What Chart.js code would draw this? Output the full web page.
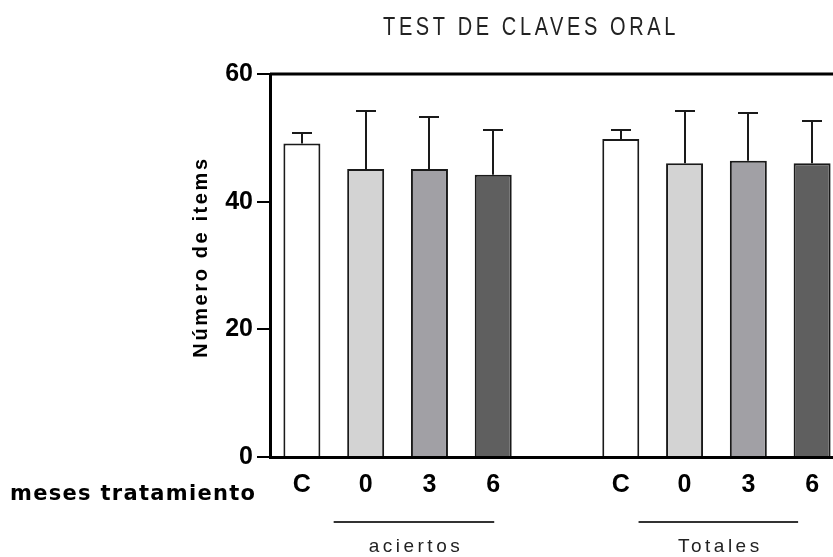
<!DOCTYPE html>
<html><head><meta charset="utf-8">
<script src="https://cdn.jsdelivr.net/npm/chart.js@4"></script>
<style>
html,body{margin:0;padding:0;background:#fff;overflow:hidden;width:833px;height:557px}
#wrap{position:absolute;left:0;top:0;width:850px;height:557px}
</style></head><body>
<div id="wrap"><canvas id="c" width="850" height="557"></canvas></div>
<script>
const categories = ['C','0','3','6','','C','0','3','6'];
const meanValues = [49.1,45.1,45.1,44.2,null,49.8,46.0,46.4,46.0];
const errorTops = [50.8,54.2,53.3,51.3,null,51.3,54.2,53.9,52.6];
const yTickValues = [0,20,40,60];
const groupNames = ['aciertos','Totales'];
const groupFirst = [1,6];
const groupLast = [3,8];
const chartTitle = 'TEST DE CLAVES ORAL';
const yTitle = 'Número de items';
const xRowLabel = 'meses tratamiento';
const barFill = ['#ffffff','#d3d3d3','#a1a0a5','#5f5f5f','#ffffff','#ffffff','#d3d3d3','#a1a0a5','#5f5f5f'];

const SANS = "'Liberation Sans',Arial,sans-serif";

const extras = {
  id:'extras',
  afterDatasetsDraw(chart){
    const ctx = chart.ctx, y = chart.scales.y, meta = chart.getDatasetMeta(0);
    ctx.save();
    ctx.strokeStyle = '#1a1a1a'; ctx.lineWidth = 2;
    meta.data.forEach((bar,i)=>{
      if (meanValues[i]==null) return;
      const x = Math.round(bar.x);
      const y0 = y.getPixelForValue(meanValues[i]);
      const y1 = Math.round(y.getPixelForValue(errorTops[i]));
      ctx.beginPath(); ctx.moveTo(x,y0); ctx.lineTo(x,y1); ctx.stroke();
      ctx.beginPath(); ctx.moveTo(x-10,y1); ctx.lineTo(x+10,y1); ctx.stroke();
    });
    const yt = y.getPixelForValue(60);
    ctx.strokeStyle = '#000'; ctx.lineWidth = 3;
    ctx.beginPath(); ctx.moveTo(chart.chartArea.left, yt); ctx.lineTo(chart.width, yt); ctx.stroke();
    ctx.restore();
  },
  afterDraw(chart){
    const ctx = chart.ctx, xs = chart.scales.x;
    ctx.save();
    // title (condensed look)
    ctx.save();
    ctx.fillStyle = '#222';
    ctx.font = "25px " + SANS;
    ctx.letterSpacing = '4.5px';
    ctx.textAlign = 'center'; ctx.textBaseline = 'middle';
    ctx.translate(531, 28); ctx.scale(0.8, 1);
    ctx.fillText(chartTitle, 0, 0);
    ctx.restore();
    // y title
    ctx.save();
    ctx.translate(201, 257); ctx.rotate(-Math.PI/2);
    ctx.font = "bold 20px " + SANS;
    ctx.letterSpacing = '2.6px';
    ctx.textAlign = 'center'; ctx.textBaseline = 'middle';
    ctx.fillStyle = '#000';
    ctx.fillText(yTitle, 0, 0);
    ctx.restore();
    // row label
    ctx.font = "bold 21px 'DejaVu Sans',Verdana,sans-serif";
    ctx.letterSpacing = '1.3px';
    ctx.textAlign = 'left'; ctx.textBaseline = 'middle'; ctx.fillStyle = '#000';
    ctx.fillText(xRowLabel, 10, 495);
    // group underlines & names
    ctx.strokeStyle = '#333'; ctx.lineWidth = 2;
    ctx.font = "19px " + SANS;
    ctx.letterSpacing = '3.5px';
    ctx.fillStyle = '#222'; ctx.textAlign = 'center';
    const offs = [[-32,1],[-46,-14]];
    groupNames.forEach((g,k)=>{
      const a = xs.getPixelForValue(groupFirst[k]) + offs[k][0];
      const b = xs.getPixelForValue(groupLast[k]) + offs[k][1];
      ctx.beginPath(); ctx.moveTo(a,522); ctx.lineTo(b,522); ctx.stroke();
      ctx.fillText(g, (a+b)/2 + 2, 547);
    });
    ctx.restore();
  }
};

new Chart(document.getElementById('c'), {
  type:'bar',
  data:{labels:categories, datasets:[{
    data:meanValues, backgroundColor:barFill, borderColor:'#1a1a1a', borderWidth:2,
    categoryPercentage:1, barPercentage:0.58
  }]},
  options:{
    responsive:false, devicePixelRatio:1, animation:false,
    layout:{padding:{top:74,right:6,bottom:0,left:0}},
    plugins:{legend:{display:false}, tooltip:{enabled:false}, title:{display:false}},
    scales:{
      x:{
        grid:{drawOnChartArea:false, drawTicks:false},
        border:{display:true, color:'#000', width:3},
        ticks:{padding:13, color:'#000', font:{family:SANS, size:25, weight:'bold'}, maxRotation:0, autoSkip:false},
        afterFit(s){ s.height = 100; }
      },
      y:{
        min:0, max:60,
        afterBuildTicks(s){ s.ticks = yTickValues.map(v=>({value:v})); },
        grid:{drawOnChartArea:false, drawTicks:true, tickLength:13, color:'#000', lineWidth:2},
        border:{display:true, color:'#000', width:3},
        ticks:{padding:4, color:'#000', font:{family:SANS, size:25, weight:'bold'}},
        afterFit(s){ s.width = 270; }
      }
    }
  },
  plugins:[extras]
});
</script>
</body></html>
